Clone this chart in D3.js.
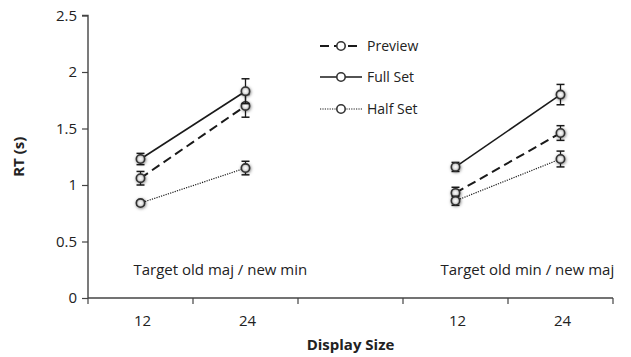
<!DOCTYPE html>
<html>
<head>
<meta charset="utf-8">
<script src="https://cdn.jsdelivr.net/npm/d3@7"></script>
<style>
  html, body { margin: 0; padding: 0; background: #fff; }
  svg { display: block; }
  text { font-family: "Open Sans", "Liberation Sans", sans-serif; fill: #222; }
</style>
</head>
<body>
<svg id="chart" width="631" height="357"></svg>
<script>
// Category slots along the x axis (the middle slot is an empty spacer)
const categories = ["12", "24", "", "12", "24"];
// Slot index of each plotted condition
const pointSlots = [0, 1, 3, 4];
// Which group each point belongs to (lines join points within a group)
const pointGroups = [0, 0, 1, 1];
const groupLabels = ["Target old maj / new min", "Target old min / new maj"];

const seriesNames = ["Preview", "Full Set", "Half Set"];
// Mean RT (s) and error-bar half widths for each series
const previewRT = [1.06, 1.70, 0.93, 1.46];
const previewErr = [0.06, 0.10, 0.05, 0.065];
const fullRT = [1.23, 1.83, 1.16, 1.80];
const fullErr = [0.05, 0.11, 0.04, 0.09];
const halfRT = [0.84, 1.15, 0.86, 1.23];
const halfErr = [0.02, 0.06, 0.04, 0.07];

const yTicks = [0, 0.5, 1, 1.5, 2, 2.5];
const yTickLabels = ["0", "0.5", "1", "1.5", "2", "2.5"];

const svg = d3.select("#chart");
const margin = { left: 88, right: 18, top: 15.5, bottom: 59 };
const W = 631, H = 357;

const x = d3.scaleBand()
  .domain(d3.range(categories.length))
  .range([margin.left, W - margin.right])
  .paddingInner(0).paddingOuter(0);
const y = d3.scaleLinear().domain([0, 2.5]).range([H - margin.bottom, margin.top]);

const axisColor = "#444";

// marker styling
const defs = svg.append("defs");
const grad = defs.append("radialGradient").attr("id", "mk");
grad.append("stop").attr("offset", "0%").attr("stop-color", "#ffffff");
grad.append("stop").attr("offset", "55%").attr("stop-color", "#e0e0e0");
grad.append("stop").attr("offset", "100%").attr("stop-color", "#939393");
const shadow = defs.append("filter").attr("id", "sh")
  .attr("x", "-80%").attr("y", "-80%").attr("width", "260%").attr("height", "260%");
shadow.append("feDropShadow").attr("dx", 0.6).attr("dy", 0.8)
  .attr("stdDeviation", 1.4).attr("flood-color", "#000").attr("flood-opacity", 0.5);

// Y axis
const yAxis = d3.axisLeft(y).tickValues(yTicks)
  .tickFormat((d, i) => yTickLabels[i]).tickSize(6).tickPadding(5);
const gy = svg.append("g").attr("transform", `translate(${margin.left},0)`).call(yAxis);
gy.select(".domain").attr("stroke", axisColor).attr("stroke-width", 1.4)
  .attr("d", `M-6,${y(2.5)}H0V${y(0)}`);
gy.selectAll(".tick line").attr("stroke", axisColor).attr("stroke-width", 1.2);
gy.selectAll(".tick text").style("font-size", "15px").attr("fill", "#222")
  .style("font-family", "'Open Sans', sans-serif");

// X axis: ticks sit on category boundaries
const xAxisG = svg.append("g").attr("transform", `translate(0,${y(0)})`);
xAxisG.append("line").attr("x1", x.range()[0]).attr("x2", x.range()[1])
  .attr("stroke", axisColor).attr("stroke-width", 1.4);
const boundaries = d3.range(categories.length + 1).map(i =>
  i < categories.length ? x(i) : x(categories.length - 1) + x.bandwidth());
xAxisG.selectAll("line.tk").data(boundaries).join("line").attr("class", "tk")
  .attr("x1", d => d).attr("x2", d => d).attr("y1", 0).attr("y2", 6)
  .attr("stroke", axisColor).attr("stroke-width", 1.2);
xAxisG.selectAll("text.cat").data(categories).join("text").attr("class", "cat")
  .attr("x", (d, i) => x(i) + x.bandwidth() / 2 + 2)
  .attr("y", 28).attr("text-anchor", "middle").style("font-size", "15px")
  .text(d => d);

// axis titles
svg.append("text").attr("x", (x.range()[0] + x.range()[1]) / 2).attr("y", 350)
  .attr("text-anchor", "middle").style("font-size", "15px").style("font-weight", "bold")
  .text("Display Size");
svg.append("text").attr("transform", `translate(24,${(y(0) + y(2.5)) / 2}) rotate(-90)`)
  .attr("text-anchor", "middle").style("font-size", "15px").style("font-weight", "bold")
  .text("RT (s)");

// group captions, starting just left of each group's first point
groupLabels.forEach((lab, g) => {
  const first = pointSlots[pointGroups.indexOf(g)];
  svg.append("text").attr("x", x(first) + x.bandwidth() / 2 - (g === 0 ? 7 : 15))
    .attr("y", 275).attr("text-anchor", "start").style("font-size", "15px").text(lab);
});

const series = [
  { name: seriesNames[0], vals: previewRT, err: previewErr, dash: "9,5", width: 2 },
  { name: seriesNames[1], vals: fullRT, err: fullErr, dash: null, width: 1.6 },
  { name: seriesNames[2], vals: halfRT, err: halfErr, dash: "1.2,1.2", width: 1.2 }
];

const cxOf = i => x(pointSlots[i]) + x.bandwidth() / 2;
const line = d3.line().x(d => cxOf(d.i)).y(d => y(d.v));

series.forEach(s => {
  const pts = s.vals.map((v, i) => ({ v, i, e: s.err[i], g: pointGroups[i] }));
  d3.groups(pts, d => d.g).forEach(([g, gp]) => {
    svg.append("path").attr("d", line(gp)).attr("fill", "none")
      .attr("stroke", "#1a1a1a").attr("stroke-width", s.width)
      .attr("stroke-dasharray", s.dash);
  });
});

// error bars and markers on top of lines
series.forEach(s => {
  const pts = s.vals.map((v, i) => ({ v, i, e: s.err[i] }));
  const eg = svg.append("g");
  pts.forEach(d => {
    const cx = cxOf(d.i);
    const y1 = y(d.v + d.e), y2 = y(d.v - d.e);
    eg.append("line").attr("x1", cx).attr("x2", cx).attr("y1", y1).attr("y2", y2)
      .attr("stroke", "#1a1a1a").attr("stroke-width", 1.3);
    [y1, y2].forEach(yy => eg.append("line").attr("x1", cx - 4).attr("x2", cx + 4)
      .attr("y1", yy).attr("y2", yy).attr("stroke", "#1a1a1a").attr("stroke-width", 1.5));
  });
  svg.append("g").selectAll("circle").data(pts).join("circle")
    .attr("cx", d => cxOf(d.i)).attr("cy", d => y(d.v)).attr("r", 4.2)
    .attr("fill", "url(#mk)").attr("stroke", "#333").attr("stroke-width", 1.6)
    .attr("filter", "url(#sh)");
});

// legend
const lg = svg.append("g");
const legendY = [46, 77, 109];
series.forEach((s, i) => {
  const yy = legendY[i];
  lg.append("line").attr("x1", 320).attr("x2", 362).attr("y1", yy).attr("y2", yy)
    .attr("stroke", "#1a1a1a").attr("stroke-width", s.width)
    .attr("stroke-dasharray", s.dash);
  lg.append("circle").attr("cx", 341).attr("cy", yy).attr("r", 4.2)
    .attr("fill", "#fff").attr("stroke", "#333").attr("stroke-width", 1.6);
  lg.append("text").attr("x", 367).attr("y", yy + 5).style("font-size", "14px").text(s.name);
});
</script>
</body>
</html>
